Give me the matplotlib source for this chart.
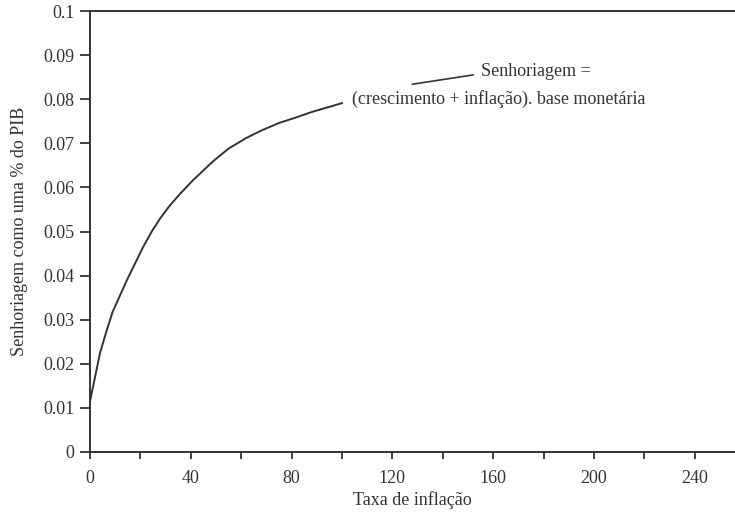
import matplotlib
matplotlib.use("Agg")
import matplotlib.pyplot as plt

# Dados
inflacao = [0, 2, 4, 6.7, 9, 12.7, 15, 18.7, 21, 24.6, 28, 31.7, 36, 41,
            49, 55, 62, 68, 75, 82, 88, 94, 100]
senhoriagem = [0.0115, 0.017, 0.0225, 0.0277, 0.0318, 0.0365, 0.0394, 0.0437,
               0.0464, 0.0501, 0.0531, 0.0559, 0.0587, 0.0617, 0.0660, 0.0688,
               0.0712, 0.0729, 0.0746, 0.0759, 0.0771, 0.0781, 0.0791]
xticks = [0, 40, 80, 120, 160, 200, 240]
xticks_menores = [20, 60, 100, 140, 180, 220]
yticks = [0, 0.01, 0.02, 0.03, 0.04, 0.05, 0.06, 0.07, 0.08, 0.09, 0.1]
ytick_labels = ["0", "0.01", "0.02", "0.03", "0.04", "0.05", "0.06",
                "0.07", "0.08", "0.09", "0.1"]

cor = "#333333"
plt.rcParams["font.family"] = ["Liberation Serif", "DejaVu Serif"]

fig = plt.figure(figsize=(7.35, 5.13), dpi=100)
ax = fig.add_axes([90 / 735, 1 - 452 / 513, 1 - 90 / 735, 441 / 513])

ax.plot(inflacao, senhoriagem, color=cor, linewidth=1.4,
        solid_joinstyle="round")

ax.set_xlim(0, 256)
ax.set_ylim(0, 0.1)
ax.set_xticks(xticks)
ax.set_xticks(xticks_menores, minor=True)
ax.set_yticks(yticks)
ax.set_yticklabels(ytick_labels)

for lado in ["left", "bottom", "top"]:
    ax.spines[lado].set_color(cor)
    ax.spines[lado].set_linewidth(1.4)
ax.spines["right"].set_visible(False)

ax.tick_params(axis="both", which="both", direction="out", color=cor,
               width=1.3, labelsize=13, labelcolor=cor)
ax.tick_params(axis="x", which="both", length=5, pad=8)
ax.tick_params(axis="y", length=7, pad=4)

ax.set_xlabel("Taxa de inflação", fontsize=13, color=cor, labelpad=3)
ax.set_ylabel("Senhoriagem como uma % do PIB", fontsize=13, color=cor, labelpad=11)

# Anotação
ax.plot([128, 152], [0.0834, 0.0855], color=cor, linewidth=1.2, clip_on=False)
ax.text(155, 0.0862, "Senhoriagem =", fontsize=13, color=cor, va="center", ha="left")
ax.text(104, 0.0800, "(crescimento + inflação). base monetária", fontsize=13,
        color=cor, va="center", ha="left")

fig.savefig("out.png", dpi=100)
